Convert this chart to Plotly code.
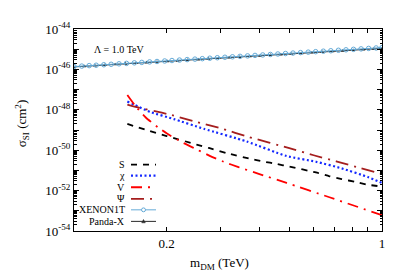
import plotly.graph_objects as go

# ---------------- data ----------------
m_S = [0.149, 0.17, 0.2, 0.25, 0.274, 0.314, 0.372, 0.412, 0.455, 0.5, 0.61, 0.675, 0.74, 0.82, 0.9, 1.0]
logsig_S = [-48.70, -48.98, -49.30, -49.72, -49.89, -50.15, -50.42, -50.56, -50.68, -50.81, -51.10, -51.29, -51.43, -51.57, -51.71, -51.80]

m_chi = [0.149, 0.177, 0.211, 0.264, 0.364, 0.49, 0.61, 0.74, 0.9, 1.0]
logsig_chi = [-47.59, -48.11, -48.46, -48.94, -49.57, -50.29, -50.57, -50.90, -51.33, -51.62]

m_V = [0.149, 0.158, 0.171, 0.187, 0.204, 0.227, 0.251, 0.277, 0.306, 0.342, 0.4, 0.49, 0.675, 1.0]
logsig_V = [-47.27, -47.80, -48.38, -48.86, -49.25, -49.65, -49.97, -50.29, -50.57, -50.84, -51.18, -51.62, -52.33, -53.22]

m_Psi = [0.149, 0.16, 0.2, 0.25, 0.3, 0.37, 0.5, 0.6, 0.71, 0.85, 1.0]
logsig_Psi = [-47.74, -47.87, -48.20, -48.60, -48.92, -49.35, -49.90, -50.25, -50.55, -50.88, -51.18]

m_xenon = [0.100, 0.106, 0.112, 0.118, 0.125, 0.132, 0.140, 0.148, 0.157, 0.166, 0.176, 0.186,
           0.197, 0.208, 0.220, 0.233, 0.247, 0.261, 0.276, 0.292, 0.309, 0.327, 0.346, 0.366,
           0.387, 0.410, 0.434, 0.459, 0.486, 0.514, 0.544, 0.576, 0.609, 0.645, 0.682, 0.722,
           0.764, 0.808, 0.855, 0.905, 0.957, 1.0]
sig_xenon = [1.38e-46, 1.46e-46, 1.54e-46, 1.61e-46, 1.70e-46, 1.79e-46, 1.89e-46, 1.99e-46,
             2.11e-46, 2.22e-46, 2.35e-46, 2.47e-46, 2.61e-46, 2.75e-46, 2.90e-46, 3.06e-46,
             3.23e-46, 3.40e-46, 3.58e-46, 3.78e-46, 3.99e-46, 4.20e-46, 4.43e-46, 4.67e-46,
             4.93e-46, 5.20e-46, 5.49e-46, 5.79e-46, 6.11e-46, 6.44e-46, 6.79e-46, 7.16e-46,
             7.55e-46, 7.97e-46, 8.39e-46, 8.85e-46, 9.34e-46, 9.84e-46, 1.037e-45, 1.094e-45,
             1.152e-45, 1.202e-45]

m_panda = [0.100, 0.108, 0.117, 0.126, 0.136, 0.147, 0.159, 0.172, 0.186, 0.201, 0.217, 0.234,
           0.253, 0.273, 0.295, 0.319, 0.345, 0.372, 0.402, 0.434, 0.469, 0.507, 0.548, 0.592,
           0.639, 0.690, 0.746, 0.806, 0.870, 0.940, 1.0]
sig_panda = [1.33e-46, 1.42e-46, 1.53e-46, 1.63e-46, 1.75e-46, 1.88e-46, 2.02e-46, 2.17e-46,
             2.33e-46, 2.50e-46, 2.68e-46, 2.88e-46, 3.09e-46, 3.32e-46, 3.57e-46, 3.83e-46,
             4.11e-46, 4.41e-46, 4.74e-46, 5.09e-46, 5.46e-46, 5.86e-46, 6.29e-46, 6.76e-46,
             7.25e-46, 7.79e-46, 8.37e-46, 8.98e-46, 9.64e-46, 1.035e-45, 1.095e-45]

x_tickvals = [0.2, 0.3, 0.4, 0.5, 0.6, 0.7, 0.8, 0.9, 1.0]
x_ticktext = ["0.2", " ", " ", " ", " ", " ", " ", " ", "1"]
y_exponents = [-54, -53, -52, -51, -50, -49, -48, -47, -46, -45, -44]

legend_labels = ["S", "χ", "V", "Ψ", "XENON1T", "Panda-X"]

# ---------------- styles ----------------
FONT = "Times New Roman, Liberation Serif, serif"
c_S, c_chi, c_V, c_Psi = "black", "rgb(20,40,255)", "rgb(255,0,0)", "rgb(165,30,30)"
c_xe, c_pa = "rgb(100,170,215)", "rgb(40,40,40)"
d_S, d_chi, d_V, d_Psi = "6px,6px", "2px,2.5px", "11px,6px,2px,6px", "13px,6px,2px,6px"

fig = go.Figure()
fig.add_trace(go.Scatter(x=m_panda, y=sig_panda, mode="lines+markers",
                         line=dict(color=c_pa, width=1),
                         marker=dict(symbol="triangle-up", size=3.5, color=c_pa),
                         showlegend=False))
fig.add_trace(go.Scatter(x=m_xenon, y=sig_xenon, mode="lines+markers",
                         line=dict(color=c_xe, width=1),
                         marker=dict(symbol="circle-open", size=4.5, color=c_xe, line=dict(width=1)),
                         showlegend=False))

for xs, ls, col, dash, w in [(m_S, logsig_S, c_S, d_S, 1.8),
                             (m_chi, logsig_chi, c_chi, d_chi, 2.2),
                             (m_V, logsig_V, c_V, d_V, 1.8),
                             (m_Psi, logsig_Psi, c_Psi, d_Psi, 1.8)]:
    fig.add_trace(go.Scatter(x=xs, y=[10 ** v for v in ls], mode="lines",
                             line=dict(color=col, dash=dash, width=w, shape="spline", smoothing=0.5),
                             showlegend=False))

# ---------------- axes ----------------
y_tickvals = [10.0 ** e for e in y_exponents]
y_ticktext = [("10<sup>%d</sup>" % e) if e % 2 == 0 else " " for e in y_exponents]
y_minor = [k * 10.0 ** e for e in y_exponents[:-1] for k in range(2, 10)]

fig.update_xaxes(type="log", range=[-1, 0], tickmode="array", tickvals=x_tickvals,
                 ticktext=x_ticktext, ticks="inside", ticklen=4, tickcolor="black",
                 showline=True, linecolor="black", linewidth=1, mirror="allticks",
                 showgrid=False, zeroline=False,
                 tickfont=dict(family=FONT, size=13, color="black"))
fig.update_yaxes(type="log", range=[-54, -44], tickmode="array", tickvals=y_tickvals,
                 ticktext=y_ticktext, ticks="inside", ticklen=5, tickcolor="black",
                 showline=True, linecolor="black", linewidth=1, mirror="allticks",
                 showgrid=False, zeroline=False,
                 minor=dict(tickmode="array", tickvals=y_minor, ticks="inside", ticklen=2.5,
                            tickcolor="black", showgrid=False),
                 tickfont=dict(family=FONT, size=13, color="black"))

# ---------------- manual gnuplot-style legend ----------------
L, R, B, T = 66, 374, 223, 13
W, H = R - L, B - T
def px(x):
    return (x - L) / W
def py(y):
    return (B - y) / H

rows_y = [154, 165.5, 177.5, 189.5, 201, 213]
styles = [(c_S, d_S, 1.8), (c_chi, d_chi, 2.2), (c_V, d_V, 1.8), (c_Psi, d_Psi, 1.8), (c_xe, "solid", 1), (c_pa, "solid", 1)]
shapes = []
annotations = []
for lab, yy, (col, dash, w) in zip(legend_labels, rows_y, styles):
    annotations.append(dict(x=px(119), y=py(yy), xref="paper", yref="paper", text=lab,
                            showarrow=False, xanchor="right", yanchor="middle",
                            font=dict(family=FONT, size=10, color="black")))
    shapes.append(dict(type="line", xref="paper", yref="paper", x0=px(123), x1=px(148),
                       y0=py(yy), y1=py(yy), line=dict(color=col, dash=dash, width=w)))
# marker samples
shapes.append(dict(type="circle", xref="paper", yref="paper", x0=px(133.5), x1=px(137.5),
                   y0=py(rows_y[4] + 2), y1=py(rows_y[4] - 2), line=dict(color=c_xe, width=1),
                   fillcolor="white"))
shapes.append(dict(type="path", xref="paper", yref="paper",
                   path="M %f,%f L %f,%f L %f,%f Z" % (px(133.7), py(rows_y[5] + 1.5), px(137.3), py(rows_y[5] + 1.5),
                                                        px(135.5), py(rows_y[5] - 2)),
                   line=dict(color=c_pa, width=0.5), fillcolor=c_pa))

annotations.append(dict(x=px(111), y=py(34), xref="paper", yref="paper", text="Λ = 1.0 TeV",
                        showarrow=False, xanchor="center", yanchor="middle",
                        font=dict(family=FONT, size=10, color="black")))
# axis titles
annotations.append(dict(x=px(211), y=py(257), xref="paper", yref="paper", text="m<sub>DM</sub> (TeV)",
                        showarrow=False, xanchor="center", yanchor="middle",
                        font=dict(family=FONT, size=13, color="black")))
annotations.append(dict(x=px(14), y=py(112), xref="paper", yref="paper",
                        text="σ<sub>SI</sub> (cm<sup>2</sup>)", textangle=-90,
                        showarrow=False, xanchor="center", yanchor="middle",
                        font=dict(family=FONT, size=13, color="black")))

fig.update_layout(width=399, height=279, margin=dict(l=L, r=399 - R, t=T, b=279 - B),
                  paper_bgcolor="white", plot_bgcolor="white",
                  font=dict(family=FONT),
                  shapes=shapes, annotations=annotations, showlegend=False)

fig.write_html("out.html")
